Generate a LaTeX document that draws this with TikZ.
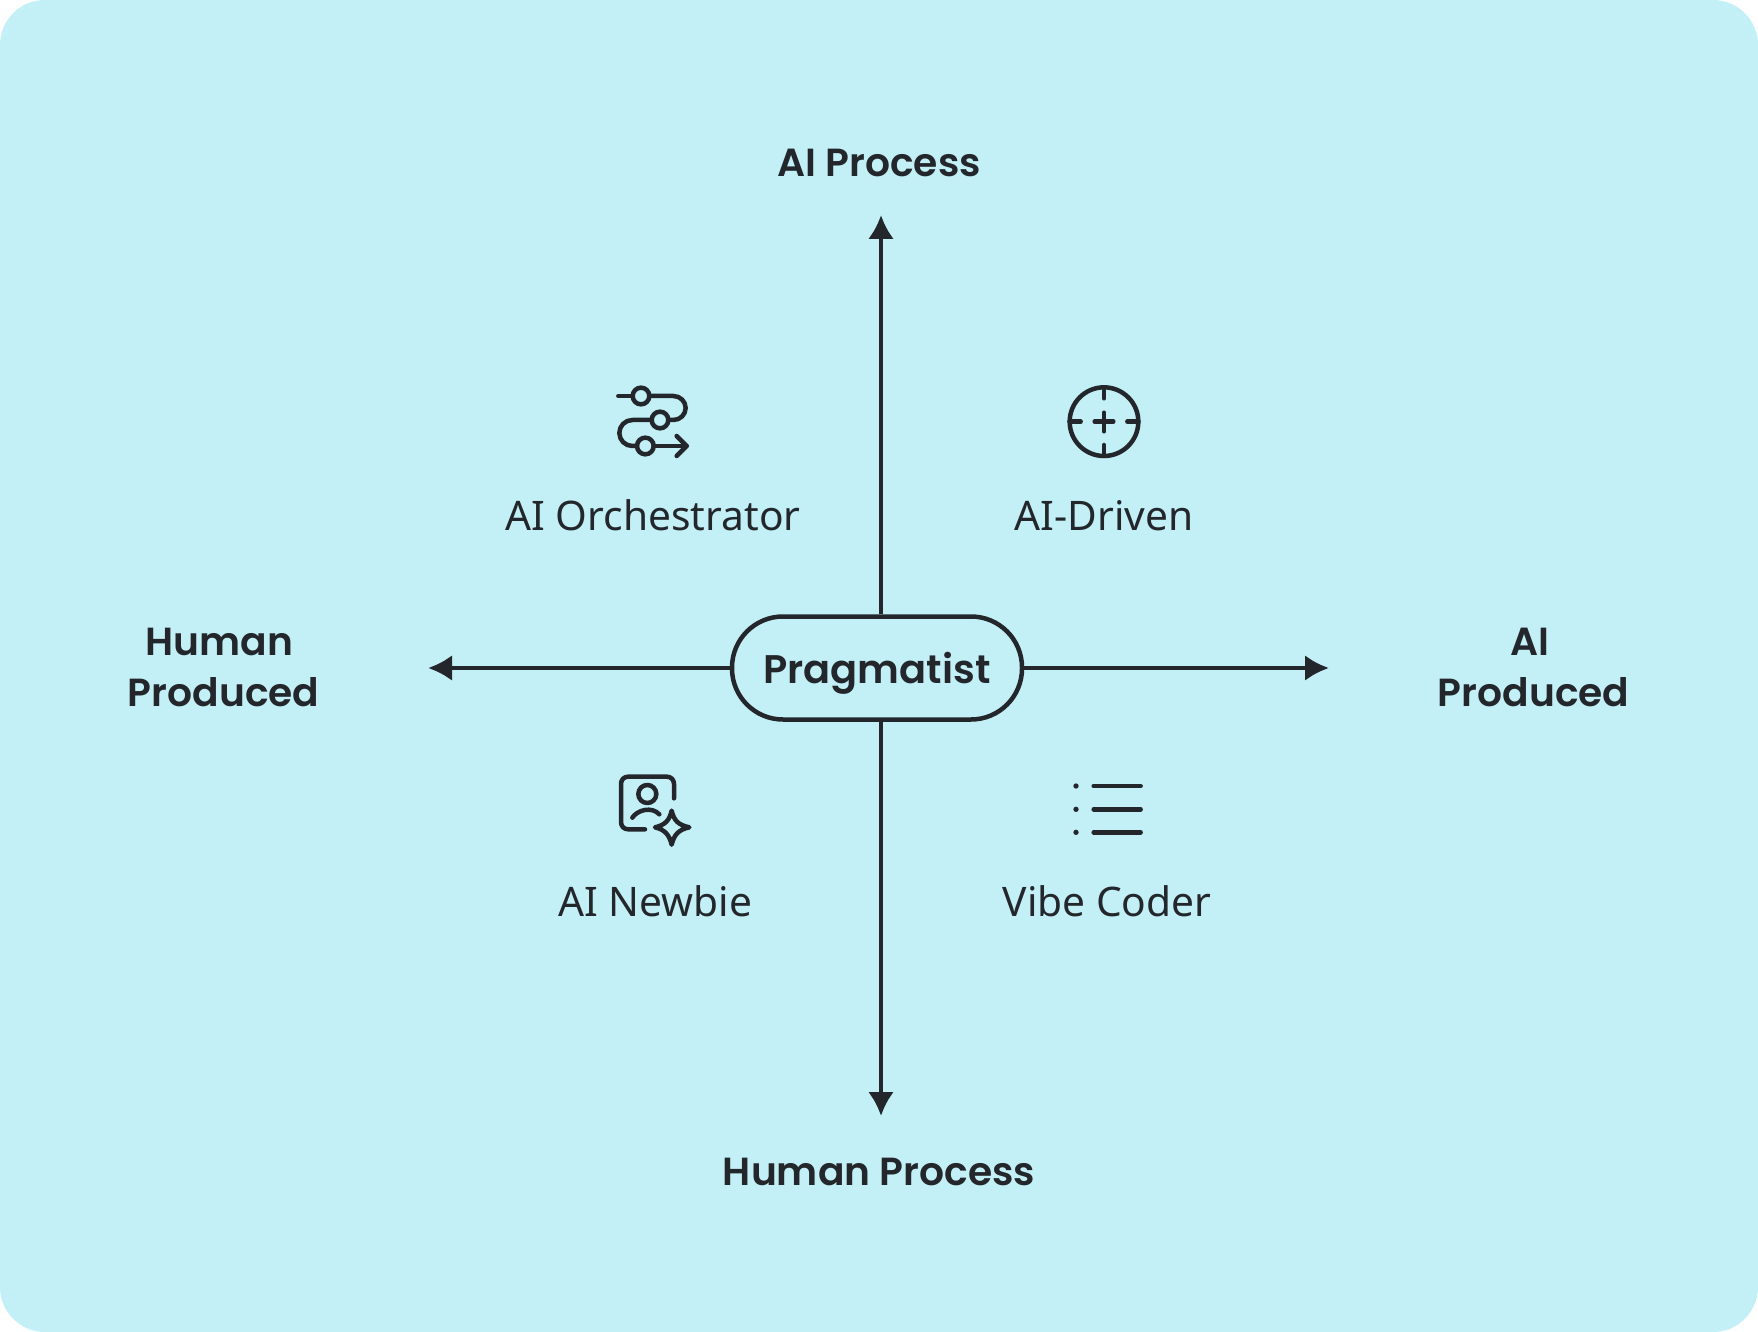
\documentclass[tikz,border=0pt]{standalone}
\usepackage{fontspec}
\setmainfont{Noto Sans}
\newfontfamily\hdfont{Poppins SemiBold}
\usetikzlibrary{arrows.meta}
\definecolor{bgc}{HTML}{C3F0F6}
\definecolor{ink}{HTML}{23272C}
\tikzset{
  axisline/.style={draw=ink,line width=4.5pt,-{Latex[length=24pt,width=26pt,sharp]}},
  head/.style={text=ink,font=\hdfont\fontsize{39.2}{51}\selectfont,align=center,inner sep=0pt},
  quad/.style={text=ink,font=\fontsize{40.7}{46}\selectfont,inner sep=0pt},
  icon/.style={draw=ink,line width=4.5pt,line cap=round,line join=round},
  iconsc/.style={x=0.3333pt,y=-0.3333pt}
}
\begin{document}
\begin{tikzpicture}[x=1pt,y=-1pt]
\useasboundingbox (0,0) rectangle (1758,1332);
\fill[bgc,rounded corners=45pt] (0,0) rectangle (1758,1332);
\node[draw=ink,line width=4.5pt,rounded corners=51pt,minimum width=290pt,minimum height=103pt,inner sep=0pt,text height=35pt,text depth=5pt,text=ink,font=\hdfont\fontsize{39.9}{46}\selectfont] (pill) at (877,668) {Pragmatist};
\coordinate (tipT) at (881,215);
\coordinate (tipB) at (881,1116);
\coordinate (tipL) at (428,668);
\coordinate (tipR) at (1329,668);
\draw[axisline] (pill.north -| tipT) -- (tipT);
\draw[axisline] (pill.south -| tipB) -- (tipB);
\draw[axisline] (pill.west) -- (tipL);
\draw[axisline] (pill.east) -- (tipR);
\node[head] (tAI) at (879,163) {AI Process};
\node[head] (tHP) at (879,1172) {Human Process};
\node[head] (tH) at (223.6,667) {Human\hspace*{8pt}\\[0pt]Produced};
\node[head] (tA) at (1533.6,667) {AI\hspace*{8pt}\\[0pt]Produced};
\node[quad] (q1) at (653,515) {AI Orchestrator};
\node[quad] (q2) at (1104,516) {AI-Driven};
\node[quad] (q3) at (655,901) {AI Newbie};
\node[quad] (q4) at (1107,901) {Vibe Coder};
% orchestrator icon
\begin{scope}[shift={(590pt,-370pt)},iconsc]
\draw[icon] (85,78) -- (128,78);
\draw[icon] (153,78) circle[radius=25];
\draw[icon] (178,78) -- (250,78) arc[start angle=90,end angle=-90,x radius=37,y radius=-36] -- (235,150);
\draw[icon] (210,150) circle[radius=25];
\draw[icon] (185,150) -- (127,150) arc[start angle=90,end angle=270,x radius=39,y radius=-39] -- (141,228);
\draw[icon] (166,228) circle[radius=25];
\draw[icon] (191,228) -- (290,228);
\draw[icon] (260,198) -- (290,228) -- (260,258);
\end{scope}
% target icon
\begin{scope}[shift={(1050pt,-370pt)},iconsc]
\draw[icon] (162,155) circle[radius=103];
\draw[icon] (162,52) -- (162,85);
\draw[icon] (162,225) -- (162,258);
\draw[icon] (59,155) -- (92,155);
\draw[icon] (232,155) -- (265,155);
\draw[icon] (134,155) -- (190,155);
\draw[icon] (162,128) -- (162,184);
\end{scope}
% person icon
\begin{scope}[shift={(600pt,-760pt)},iconsc]
\draw[icon] (135,208) -- (85,208) .. controls (72,208) and (63,199) .. (63,186) -- (63,72) .. controls (63,59) and (72,50) .. (85,50) -- (200,50) .. controls (213,50) and (222,59) .. (222,72) -- (222,115);
\draw[icon] (142,102) circle[radius=27];
\draw[icon] (97,173) .. controls (112,150) and (155,138) .. (178,163);
\draw[icon] (215,152) .. controls (222,182) and (235,195) .. (268,202) .. controls (235,209) and (222,225) .. (215,254) .. controls (208,225) and (195,209) .. (165,202) .. controls (195,195) and (208,182) .. (215,152) -- cycle;
\end{scope}
% list icon
\begin{scope}[shift={(1050pt,-760pt)},iconsc]
\foreach \yy in {78,148,217}{
  \fill[ink] (78,\yy) circle[radius=8];
  \draw[icon] (131,\yy) -- (272,\yy);
}
\end{scope}
\end{tikzpicture}
\end{document}
